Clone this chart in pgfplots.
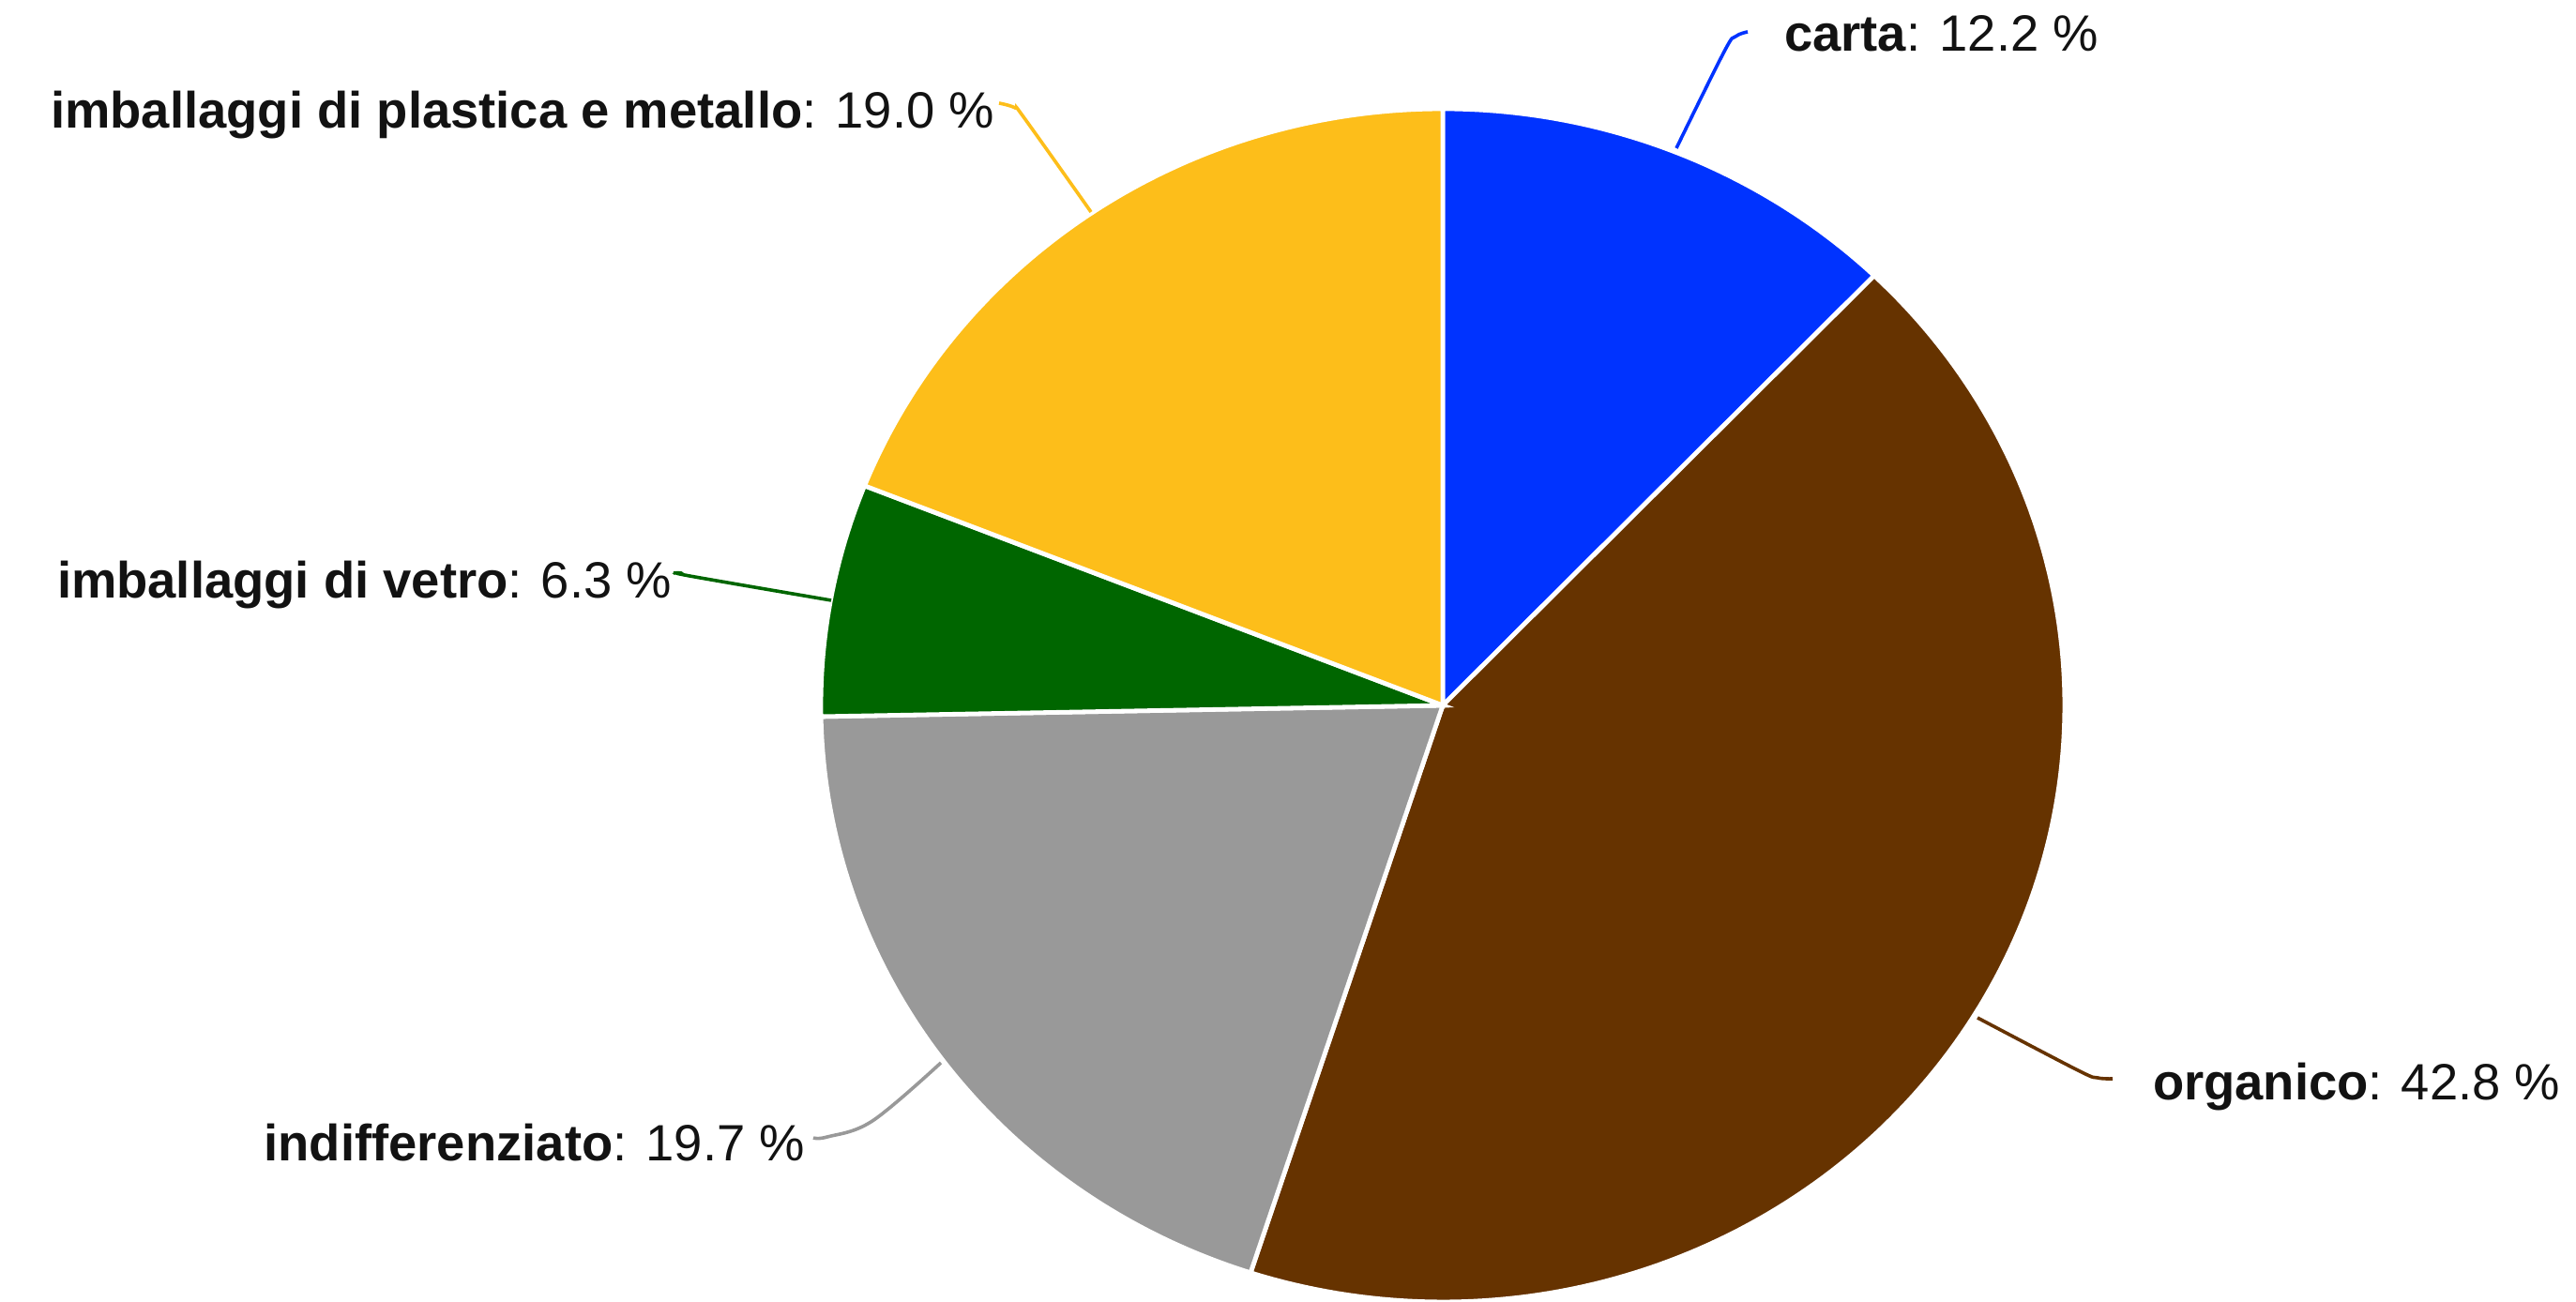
\documentclass[border=0pt]{standalone}
\usepackage{pgfplots}
\usepackage{pgfplotstable}
\pgfplotsset{compat=1.18}
\usepackage{fontspec}
\setmainfont{Liberation Sans}
\definecolor{cCarta}{HTML}{0033FF}
\definecolor{cOrg}{HTML}{663300}
\definecolor{cInd}{HTML}{999999}
\definecolor{cVet}{HTML}{006600}
\definecolor{cPla}{HTML}{FDBE1A}
\pgfplotstableread[col sep=comma]{
label,value
carta,12.2
organico,42.8
indifferenziato,19.7
imballaggi di vetro,6.3
imballaggi di plastica e metallo,19.0
}\piedata
\tikzset{lab/.style={inner sep=0pt, outer sep=0pt, text=black!93, font=\fontsize{13.6pt}{16pt}\selectfont}}
\begin{document}%
\begin{tikzpicture}
\pgfplotstablegetelem{0}{value}\of\piedata\edef\vA{\pgfplotsretval}
\pgfplotstablegetelem{1}{value}\of\piedata\edef\vB{\pgfplotsretval}
\pgfplotstablegetelem{2}{value}\of\piedata\edef\vC{\pgfplotsretval}
\pgfplotstablegetelem{3}{value}\of\piedata\edef\vD{\pgfplotsretval}
\pgfplotstablegetelem{4}{value}\of\piedata\edef\vE{\pgfplotsretval}
\pgfmathsetmacro\aA{90-3.6*\vA}
\pgfmathsetmacro\aB{\aA-3.6*\vB}
\pgfmathsetmacro\aC{\aB-3.6*\vC}
\pgfmathsetmacro\aD{\aC-3.6*\vD}
\pgfmathsetmacro\aE{\aD-3.6*\vE}
\begin{axis}[
  at={(0,0)}, anchor=south west,
  scale only axis, width=686.5pt, height=347pt,
  xmin=0, xmax=2746, ymin=0, ymax=1388,
  hide axis, clip=false,
]
\def\cx{1538}\def\cy{636}\def\rx{663}\def\ry{636}
\addplot[fill=cCarta, draw=white, line width=1.2pt, domain=\aA:90, samples=80] ({\cx+\rx*cos(x)},{\cy+\ry*sin(x)}) -- (axis cs:\cx,\cy) -- cycle;
\addplot[fill=cOrg, draw=white, line width=1.2pt, domain=\aB:\aA, samples=150] ({\cx+\rx*cos(x)},{\cy+\ry*sin(x)}) -- (axis cs:\cx,\cy) -- cycle;
\addplot[fill=cInd, draw=white, line width=1.2pt, domain=\aC:\aB, samples=100] ({\cx+\rx*cos(x)},{\cy+\ry*sin(x)}) -- (axis cs:\cx,\cy) -- cycle;
\addplot[fill=cVet, draw=white, line width=1.2pt, domain=\aD:\aC, samples=50] ({\cx+\rx*cos(x)},{\cy+\ry*sin(x)}) -- (axis cs:\cx,\cy) -- cycle;
\addplot[fill=cPla, draw=white, line width=1.2pt, domain=\aE:\aD, samples=100] ({\cx+\rx*cos(x)},{\cy+\ry*sin(x)}) -- (axis cs:\cx,\cy) -- cycle;
% leader lines
\addplot[cCarta, line width=0.9pt, smooth, tension=0.6] coordinates {(1787,1230) (1838,1333) (1850,1349) (1863,1354)};
\addplot[cOrg, line width=0.9pt, smooth, tension=0.6] coordinates {(2108,303) (2215,247) (2236,239) (2252,238)};
\addplot[cInd, line width=0.9pt, smooth, tension=0.6] coordinates {(1003,255) (930,193) (882,176) (867,175)};
\addplot[cVet, line width=0.9pt, smooth, tension=0.6] coordinates {(886,748) (735,774) (726,777) (718,777)};
\addplot[cPla, line width=0.9pt, smooth, tension=0.6] coordinates {(1163,1162) (1092,1262) (1082,1273) (1065,1278)};
% labels
\node[lab, anchor=base west] at (axis cs:1902,1333) {\textbf{carta}: 12.2 \%};
\node[lab, anchor=base west] at (axis cs:2295,215) {\textbf{organico}: 42.8 \%};
\node[lab, anchor=base east] at (axis cs:858,150) {\textbf{indifferenziato}: 19.7 \%};
\node[lab, anchor=base east] at (axis cs:716,750) {\textbf{imballaggi di vetro}: 6.3 \%};
\node[lab, anchor=base east] at (axis cs:1060,1251) {\textbf{imballaggi di plastica e metallo}: 19.0 \%};
\end{axis}
\pgfresetboundingbox
\useasboundingbox (0,0) rectangle (686.5pt,347pt);
\end{tikzpicture}%
\end{document}
